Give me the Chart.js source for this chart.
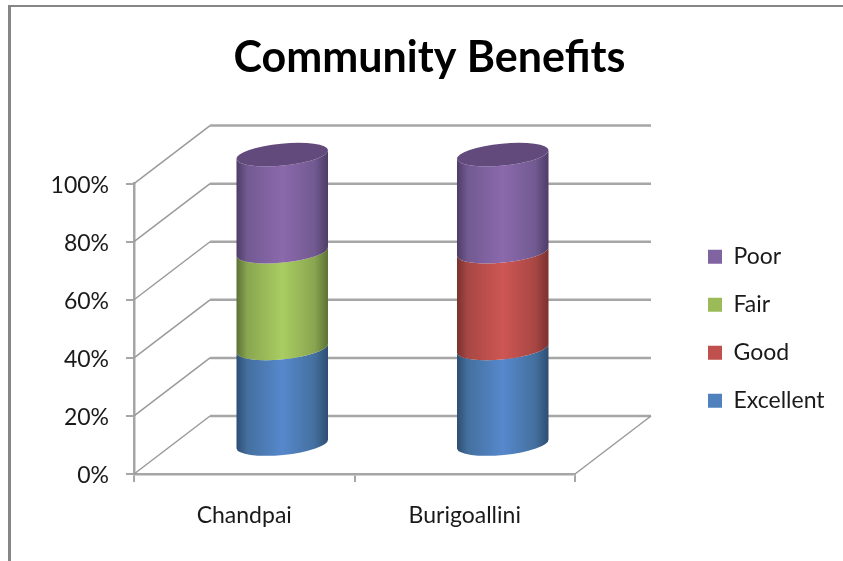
<!DOCTYPE html>
<html>
<head>
<meta charset="utf-8">
<title>Community Benefits</title>
<style>
  html, body { margin: 0; background: #fff; }
  #wrap { width: 843px; height: 561px; }
</style>
</head>
<body>
<div id="wrap"><canvas id="chart" width="843" height="561"></canvas></div>
<script src="https://cdn.jsdelivr.net/npm/chart.js@4/dist/chart.umd.js"></script>
<script>
const categories = ['Chandpai', 'Burigoallini'];
const excellent  = [33.3, 33.3];
const good       = [0, 33.3];
const fair       = [33.3, 0];
const poor       = [33.4, 33.4];

const FONT = 'Lato, sans-serif';
const DEPTH_X = 76;
const DEPTH_Y = 58;
const TILT = -5.6 * Math.PI / 180;

// edge / mid / centre colours for the cylinder shading
const shades = {
    Excellent: ['#2e4d72', '#44709f', '#5688cc'],
    Good:      ['#7a312f', '#a84744', '#ce5653'],
    Fair:      ['#5c7135', '#89a650', '#a9cd62'],
    Poor:      ['#4d3c66', '#725a92', '#8b69ac'],
};
const CAP_COLOR = '#634a7c';
const GRID_COLOR = '#a6a6a6';

function drawFrame(ctx) {
    ctx.save();
    ctx.fillStyle = '#868686';
    ctx.fillRect(8, 5, 835, 2);
    ctx.fillRect(8, 5, 3, 556);
    ctx.restore();
}

// Walls and floor of the 3D box, taken from the y scale's ticks.
function drawBox(chart) {
    const { ctx, chartArea: area, scales: { y } } = chart;
    ctx.save();
    y.ticks.forEach((tick) => {
        const py = y.getPixelForValue(tick.value);
        ctx.strokeStyle = '#9a9a9a';
        ctx.lineWidth = 1.5;
        ctx.beginPath();
        ctx.moveTo(area.left, py);
        ctx.lineTo(area.left + DEPTH_X, py - DEPTH_Y);
        ctx.stroke();
        ctx.strokeStyle = GRID_COLOR;
        ctx.lineWidth = 2.5;
        ctx.beginPath();
        ctx.moveTo(area.left + DEPTH_X, py - DEPTH_Y);
        ctx.lineTo(area.right + DEPTH_X, py - DEPTH_Y);
        ctx.stroke();
    });
    ctx.strokeStyle = '#9a9a9a';
    ctx.lineWidth = 1.5;
    ctx.beginPath();
    ctx.moveTo(area.right, area.bottom);
    ctx.lineTo(area.right + DEPTH_X, area.bottom - DEPTH_Y);
    ctx.stroke();
    ctx.restore();
}

function sideGradient(ctx, cx, r, colors) {
    const g = ctx.createLinearGradient(cx - r, 0, cx + r, 0);
    g.addColorStop(0,    colors[0]);
    g.addColorStop(0.12, colors[1]);
    g.addColorStop(0.5,  colors[2]);
    g.addColorStop(0.85, colors[1]);
    g.addColorStop(1,    colors[0]);
    return g;
}

function drawCylinders(chart) {
    const { ctx } = chart;
    const rx = (el) => el.width / 2;
    const ry = 11;
    ctx.save();
    chart.data.datasets.forEach((ds, i) => {
        chart.getDatasetMeta(i).data.forEach((el) => {
            if (Math.abs(el.base - el.y) < 0.5) return;
            const cx = el.x + DEPTH_X / 2;
            const top = el.y - DEPTH_Y / 2;
            const bottom = el.base - DEPTH_Y / 2;
            ctx.beginPath();
            ctx.ellipse(cx, bottom, rx(el), ry, TILT, 0, Math.PI);
            ctx.ellipse(cx, top, rx(el), ry, TILT, Math.PI, 0, true);
            ctx.closePath();
            ctx.fillStyle = sideGradient(ctx, cx, rx(el), shades[ds.label]);
            ctx.fill();
        });
    });
    // the lid of each stack
    const last = chart.getDatasetMeta(chart.data.datasets.length - 1).data;
    last.forEach((el) => {
        ctx.beginPath();
        ctx.ellipse(el.x + DEPTH_X / 2, el.y - DEPTH_Y / 2, rx(el), ry, TILT, 0, Math.PI * 2);
        ctx.fillStyle = CAP_COLOR;
        ctx.fill();
    });
    ctx.restore();
}

const cylinderPlugin = {
    id: 'cylinders',
    // The layout caps a side legend's width, which would clip "Excellent".
    afterLayout(chart) {
        chart.legend.left = 683;
        chart.legend.right = 843;
    },
    beforeDraw(chart) {
        drawFrame(chart.ctx);
    },
    beforeDatasetsDraw(chart) {
        drawBox(chart);
        drawCylinders(chart);
        return false; // flat bars are replaced by the cylinders
    },
};

new Chart(document.getElementById('chart'), {
    type: 'bar',
    data: {
        labels: categories,
        datasets: [
            { label: 'Excellent', data: excellent, backgroundColor: '#4f81bd' },
            { label: 'Good',      data: good,      backgroundColor: '#c0504d' },
            { label: 'Fair',      data: fair,      backgroundColor: '#9bbb59' },
            { label: 'Poor',      data: poor,      backgroundColor: '#8064a2' },
        ],
    },
    options: {
        responsive: false,
        animation: false,
        layout: { padding: { left: 16, top: 0, right: 0, bottom: 0 } },
        datasets: { bar: { categoryPercentage: 1, barPercentage: 0.417 } },
        scales: {
            x: {
                stacked: true,
                afterFit: (s) => { s.height = 87; },
                grid: { drawOnChartArea: false, color: GRID_COLOR, lineWidth: 2, tickLength: 8, offset: true },
                border: { color: GRID_COLOR, width: 2.5 },
                ticks: { color: '#1a1a1a', font: { family: FONT, size: 23 }, padding: 20 },
            },
            y: {
                stacked: true,
                min: 0,
                max: 100,
                afterFit: (s) => { s.width = 118; },
                grid: { drawOnChartArea: false, color: GRID_COLOR, lineWidth: 2, tickLength: 8 },
                border: { color: GRID_COLOR, width: 2.5 },
                ticks: {
                    stepSize: 20,
                    color: '#1a1a1a',
                    font: { family: FONT, size: 23 },
                    padding: 17,
                    labelOffset: 2,
                    callback: (v) => v + '%',
                },
            },
            // empty axis that keeps room for the depth of the box
            depth: {
                axis: 'y',
                position: 'right',
                display: true,
                afterFit: (s) => { s.width = 138; },
                grid: { display: false },
                border: { display: false },
                ticks: { display: false },
            },
        },
        plugins: {
            title: {
                display: true,
                text: 'Community Benefits',
                color: '#000',
                font: { family: FONT, size: 43, weight: 'bold' },
                padding: { top: 32, bottom: 100 },
            },
            legend: {
                position: 'right',
                fullSize: false,
                reverse: true,
                maxWidth: 130,
                labels: {
                    boxWidth: 14,
                    boxHeight: 14,
                    padding: 25,
                    color: '#1a1a1a',
                    font: { family: FONT, size: 23 },
                },
            },
            tooltip: { enabled: false },
        },
    },
    plugins: [cylinderPlugin],
});
</script>
</body>
</html>
